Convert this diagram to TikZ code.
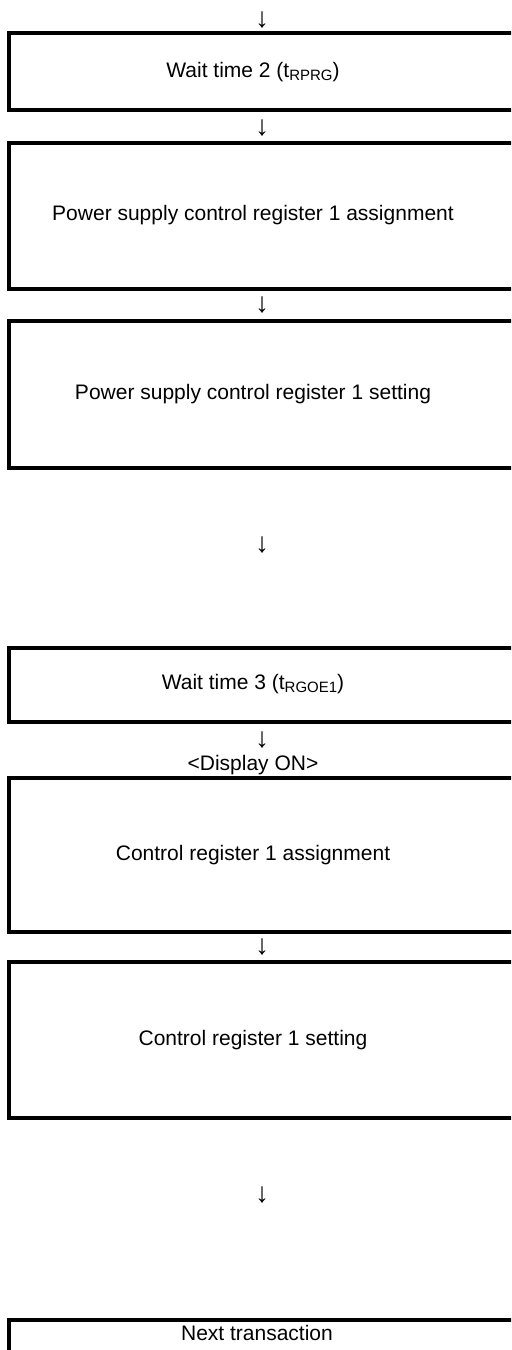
\documentclass[tikz,border=0pt]{standalone}
\usepackage{fontspec}
\setmainfont{Liberation Sans}
\newcommand{\tsub}[1]{\raisebox{-0.3ex}{\fontsize{7.5}{9}\selectfont #1}}

\begin{document}
\begin{tikzpicture}[x=0.5pt,y=-0.5pt,
    boxline/.style={line width=2pt},
    lbl/.style={font=\fontsize{10.5}{12}\selectfont, inner sep=0pt},
    dn/.style={font=\fontsize{14}{16}\selectfont, inner sep=0pt}]
    \useasboundingbox (0,0) rectangle (511,1350);
    \clip (0,0) rectangle (511,1350);

    % Wait time 2
    \node[dn] (a0) at (262,20) {↓};
    \draw[boxline] (9,33) rectangle (540,110);
    \node[lbl] (wait2) at (253,72) {Wait time 2 (t\tsub{RPRG})};
    \node[dn] (a1) at (262,128) {↓};

    % Power supply control register 1
    \draw[boxline] (9,142.5) rectangle (540,289);
    \node[lbl] (psassign) at (253,215) {Power supply control register 1 assignment};
    \node[dn] (a2) at (262,305) {↓};
    \draw[boxline] (9,320.5) rectangle (540,467.5);
    \node[lbl] (psset) at (253,394) {Power supply control register 1 setting};
    \node[dn] (a3) at (262,545) {↓};

    % Wait time 3
    \draw[boxline] (9,648) rectangle (540,721.5);
    \node[lbl] (wait3) at (253,684) {Wait time 3 (t\tsub{RGOE1})};
    \node[dn] (a4) at (262,740) {↓};
    \node[lbl] (dispon) at (253,765) {<Display ON>};

    % Control register 1
    \draw[boxline] (9,778) rectangle (540,931.5);
    \node[lbl] (crassign) at (253,855) {Control register 1 assignment};
    \node[dn] (a5) at (262,947) {↓};
    \draw[boxline] (9,962) rectangle (540,1117.5);
    \node[lbl] (crset) at (253,1040) {Control register 1 setting};
    \node[dn] (a6) at (262,1195) {↓};

    % Next transaction
    \draw[boxline] (9,1320) rectangle (540,1380);
    \node[lbl] (next) at (257,1333) {Next transaction};
\end{tikzpicture}
\end{document}
